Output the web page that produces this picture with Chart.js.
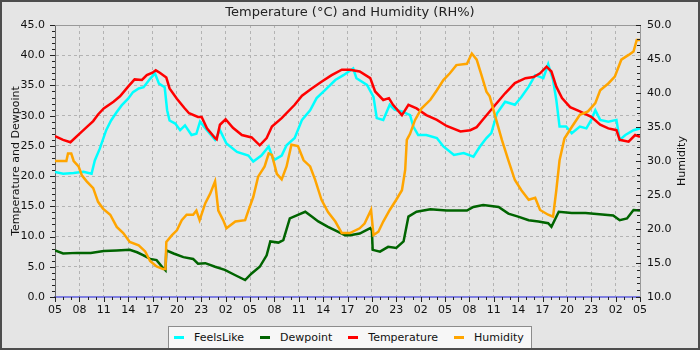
<!DOCTYPE html>
<html>
<head>
<meta charset="utf-8">
<title>Temperature and Humidity</title>
<script src="https://cdn.jsdelivr.net/npm/chart.js@4.4.1/dist/chart.umd.min.js"></script>
<style>
  html, body { margin: 0; padding: 0; background: #e5e5e5; }
  #frame {
    position: relative; width: 700px; height: 350px; box-sizing: border-box;
    border: 2px solid #4d4d4d; background: #e5e5e5; overflow: hidden;
  }
  #plot { position: absolute; left: 0; top: 0; width: 696px; height: 346px; }
  #legend {
    position: absolute; left: 166px; top: 324px; width: 364px; height: 24px;
    box-sizing: border-box; border: 1px solid #8c8c8c; background: #f7f7f7;
    display: flex; align-items: center; padding: 0 0 2px 5px;
    font: 11px "DejaVu Sans", sans-serif; color: #111; white-space: nowrap;
  }
  #legend .item { display: flex; align-items: center; margin-right: 16px; }
  #legend .item:last-child { margin-right: 0; }
  #legend .mark { width: 10px; height: 3px; margin-right: 10px; }
</style>
</head>
<body>
<div id="frame">
  <div id="plot"><canvas id="c" width="696" height="346"></canvas></div>
  <div id="legend"></div>
</div>
<script>
// Time axis: hours since 05:00 on the first day, labelled every 3 hours.
const hourLabels = ['05','08','11','14','17','20','23','02','05','08','11','14','17',
                    '20','23','02','05','08','11','14','17','20','23','02','05'];

// Temperature (°C)
const tempHours = [0,1,1.9,3,3.9,4.7,5.3,6,7.2,8,9,9.8,10.7,11.3,12,12.4,12.9,13.7,14.1,15,15.9,16.5,17.6,18.05,18.7,19.7,19.9,20.3,21.0,21.9,23.0,24.2,25.2,26.05,26.7,27.9,29.5,30.4,31.6,32.8,34.05,35.3,36.3,37.5,38.8,39.4,40.4,41.1,41.6,42.7,43.5,44.5,45.7,47.0,48.2,49.9,51.1,51.9,52.7,53.5,54.2,55.4,56.6,57.9,58.9,59.7,60.5,61.1,61.7,62.4,63.4,64.6,66.0,67.1,68.1,69.1,69.5,70.6,71.4,72];
const tempValues = [26.6,26.0,25.6,27.0,28.1,29.1,30.2,31.2,32.3,33.2,34.8,36.0,35.9,36.7,37.1,37.5,37.1,36.3,34.5,32.8,31.3,30.4,29.8,29.8,27.9,26.3,26.1,28.5,29.4,28.0,26.8,26.4,25.1,26.3,28.2,29.6,31.8,33.3,34.5,35.6,36.7,37.6,37.6,37.3,36.2,34.0,32.6,32.9,31.8,30.1,31.8,31.2,30.1,29.3,28.3,27.4,27.6,28.1,29.4,30.7,31.8,33.7,35.4,36.2,36.4,37.0,38.1,37.3,34.8,32.9,31.4,30.7,29.8,28.5,27.9,27.6,26.0,25.7,26.8,26.5];

// Feels-like temperature (°C)
const feelsHours = [0,1,2.3,3.5,4.5,4.9,5.5,6.3,6.9,7.6,8.2,9,9.6,10.3,10.9,11.7,12.3,12.8,13.5,13.8,14.1,14.8,15.4,16.0,16.8,17.4,17.85,18.7,19.7,20.3,21.1,22.4,23.8,24.4,25.4,26.3,26.9,27.9,28.5,29.5,30.4,31.4,32.2,33.2,34.5,35.5,36.7,37.1,38.4,39.2,39.6,40.4,41.2,41.8,42.7,43.7,44.1,44.7,45.7,47.0,47.8,49.1,50.3,51.5,52.3,53.1,53.7,54.4,55.4,56.6,57.4,58.3,59.1,60.1,60.7,61.3,61.7,62.1,62.9,63.6,64.6,65.4,66.0,66.5,67.1,68.1,69.1,69.5,70.2,71.2,72];
const feelsValues = [20.7,20.4,20.5,20.7,20.4,22.6,24.5,27.6,29.2,30.6,31.7,32.8,33.9,34.5,34.7,36.1,37.0,35.3,34.7,30.9,29.2,28.7,27.6,28.4,26.8,27.0,29.0,27.6,26.0,27.6,25.4,24.0,23.4,22.4,23.4,24.9,22.6,23.4,25.1,26.3,29.3,30.9,32.9,34.2,35.9,36.7,37.8,36.2,35.1,33.1,29.6,29.3,31.8,31.0,30.7,30.1,28.2,26.8,26.8,26.3,24.9,23.5,23.8,23.2,24.9,26.3,27.1,30.4,32.3,31.8,33.1,34.8,36.7,36.2,38.5,35.9,32.6,28.2,28.2,27.1,28.2,27.9,29.3,30.9,29.3,29.0,29.3,26.0,26.8,27.6,27.9];

// Dewpoint (°C)
const dewHours = [0,1,2.7,4.4,6,7.6,9.2,10.1,10.9,11.7,12.5,13.3,13.6,13.7,14.6,15.8,17,17.6,18.5,19.7,20.9,22.2,23.4,24.2,25.2,26.05,26.5,27.5,28.1,28.9,29.9,30.8,31.6,32.4,33.6,34.8,35.7,36.3,37.5,38.8,39.0,39.1,40.0,41.0,42.0,42.9,43.5,44.5,46.2,48.2,50.7,51.5,52.7,54.6,55.8,57.0,58.3,59.5,60.7,61.1,62.0,63.6,65.3,67.0,68.7,69.5,70.4,71.2,72];
const dewValues = [7.7,7.2,7.3,7.3,7.6,7.7,7.8,7.4,6.9,6.3,6.1,4.8,4.4,7.7,7.2,6.6,6.3,5.5,5.6,5.0,4.5,3.6,2.8,3.9,5.0,6.9,9.2,9.0,9.4,13.0,13.6,14.1,13.3,12.5,11.6,10.8,10.2,10.2,10.5,11.4,11.0,7.8,7.5,8.3,8.1,9.2,13.3,14.1,14.5,14.3,14.3,14.9,15.2,14.9,13.8,13.3,12.7,12.5,12.2,11.6,14.1,13.9,13.9,13.7,13.5,12.7,13.0,14.4,14.3];

// Relative humidity (%)
const humHours = [0,1.4,1.6,2.0,2.3,2.9,3.3,3.9,4.7,5.3,5.9,6.8,7.6,8.4,9.2,10.3,11.1,11.7,12.5,13.3,13.6,13.7,14.4,15.0,15.6,16.2,17.0,17.4,17.8,18.5,19.1,19.7,20.1,20.7,21.1,22.2,23.4,23.8,24.4,25.0,25.8,26.3,26.7,27.3,27.9,28.5,29.1,29.9,30.6,31.4,32.0,32.8,33.6,34.5,35.3,36.3,37.5,38.1,38.9,39.2,39.8,40.4,41.2,42.0,42.7,43.1,43.3,43.7,44.3,45.1,46.2,47.0,47.8,48.6,49.4,50.7,51.3,51.9,52.5,53.1,53.5,54.2,55.0,55.8,56.6,57.4,58.3,59.1,59.7,60.7,61.3,61.7,62.1,62.7,63.6,64.6,65.6,66.5,67.1,68.1,68.9,69.7,70.6,71.2,71.6,72];
const humValues = [30.0,30.0,31.1,31.1,30.0,29.2,27.9,27.0,26.0,24.0,23.0,22.1,20.3,19.4,18.1,17.6,16.7,15.3,14.5,14.1,14.1,18.1,19.1,19.8,21.3,22.1,22.1,22.7,21.3,23.8,25.2,27.0,22.7,21.3,20.1,21.1,21.3,22.7,24.7,27.7,29.2,31.1,30.9,28.1,27.3,29.2,32.4,32.2,30.1,29.2,27.3,24.3,22.5,21.1,19.4,19.4,20.1,20.8,22.8,19.1,19.6,21.1,22.8,24.3,25.7,28.7,33.1,34.0,36.0,37.7,39.0,40.4,41.9,42.9,44.1,44.3,45.8,44.9,42.6,40.2,39.5,36.5,33.1,30.1,27.2,25.7,24.3,24.6,22.8,22.1,21.8,25.7,30.1,33.3,35.0,36.8,37.3,38.5,40.4,41.4,42.4,44.9,45.6,46.1,47.8,47.8];

const toPoints = (hours, values) => hours.map((h, i) => ({ x: h, y: values[i] }));

Chart.defaults.font.family = '"DejaVu Sans", sans-serif';
Chart.defaults.font.size = 11;
Chart.defaults.color = '#111';

// Hour / unit tick marks on all three axes (major ticks slightly longer).
const axisTicks = {
  id: 'axisTicks',
  afterDraw(chart) {
    const { ctx, chartArea: a, scales } = chart;
    ctx.save();
    ctx.strokeStyle = '#222';
    ctx.lineWidth = 1;
    ctx.beginPath();
    for (let h = scales.x.min; h <= scales.x.max; h++) {
      const px = Math.round(scales.x.getPixelForValue(h)) + 0.5;
      ctx.moveTo(px, a.bottom);
      ctx.lineTo(px, a.bottom + (h % 3 === 0 ? 5 : 3));
    }
    for (let v = scales.yT.min; v <= scales.yT.max; v++) {
      const py = Math.round(scales.yT.getPixelForValue(v)) + 0.5;
      ctx.moveTo(a.left - (v % 5 === 0 ? 5 : 3), py);
      ctx.lineTo(a.left, py);
    }
    for (let v = scales.yH.min; v <= scales.yH.max; v++) {
      const py = Math.round(scales.yH.getPixelForValue(v)) + 0.5;
      ctx.moveTo(a.right - (v % 5 === 0 ? 4 : 3), py);
      ctx.lineTo(a.right + (v % 5 === 0 ? 1 : 0), py);
    }
    ctx.stroke();
    ctx.restore();
  }
};

// Top edge of the plot frame and the right-hand axis title.
const frameAndTitle = {
  id: 'frameAndTitle',
  beforeDatasetsDraw(chart) {
    const { ctx, chartArea: a } = chart;
    ctx.save();
    ctx.strokeStyle = '#999';
    ctx.lineWidth = 1;
    ctx.beginPath();
    ctx.moveTo(a.left, a.top + 0.5);
    ctx.lineTo(a.right, a.top + 0.5);
    ctx.stroke();
    ctx.restore();
  },
  afterDraw(chart) {
    const { ctx, chartArea: a, scales } = chart;
    ctx.save();
    ctx.translate(scales.yH.right - 16, (a.top + a.bottom) / 2);
    ctx.rotate(-Math.PI / 2);
    ctx.font = '11px "DejaVu Sans", sans-serif';
    ctx.fillStyle = '#111';
    ctx.textAlign = 'center';
    ctx.textBaseline = 'middle';
    ctx.fillText('Humidity', 0, 0);
    ctx.restore();
  }
};

// Legend rendered as HTML from the chart's own datasets.
const htmlLegend = {
  id: 'htmlLegend',
  afterUpdate(chart) {
    const box = document.getElementById('legend');
    box.innerHTML = '';
    chart.data.datasets.forEach(ds => {
      const item = document.createElement('span');
      item.className = 'item';
      const mark = document.createElement('span');
      mark.className = 'mark';
      mark.style.background = ds.borderColor;
      const text = document.createElement('span');
      text.textContent = ds.label;
      item.appendChild(mark);
      item.appendChild(text);
      box.appendChild(item);
    });
  }
};

const gridStyle = { color: '#b3b3b3', lineWidth: 1, drawTicks: false };

new Chart(document.getElementById('c'), {
  type: 'line',
  data: {
    datasets: [
      { label: 'FeelsLike', data: toPoints(feelsHours, feelsValues), borderColor: '#00ffff', yAxisID: 'yT', order: 4 },
      { label: 'Dewpoint', data: toPoints(dewHours, dewValues), borderColor: '#006400', yAxisID: 'yT', order: 3 },
      { label: 'Temperature', data: toPoints(tempHours, tempValues), borderColor: '#ff0000', yAxisID: 'yT', order: 2 },
      { label: 'Humidity', data: toPoints(humHours, humValues), borderColor: '#ffa500', yAxisID: 'yH', order: 1 }
    ]
  },
  options: {
    responsive: false,
    animation: false,
    events: [],
    datasets: { line: { borderWidth: 2.5, pointRadius: 0, tension: 0, fill: false } },
    layout: { padding: { left: 0, right: 0, top: 0, bottom: 29 } },
    plugins: {
      legend: { display: false },
      tooltip: { enabled: false },
      title: {
        display: true,
        text: 'Temperature (°C) and Humidity (RH%)',
        color: '#222',
        font: { size: 13, weight: 'normal' },
        padding: { top: 3, bottom: 4.4 }
      }
    },
    scales: {
      x: {
        type: 'linear', position: 'bottom', min: 0, max: 72,
        afterFit: s => { s.height = 22; },
        ticks: {
          stepSize: 3, autoSkip: false, maxRotation: 0, padding: 7, color: '#111',
          callback: v => hourLabels[Math.round(v / 3)]
        },
        grid: gridStyle,
        border: { display: true, color: '#7f7fe0', width: 2, dash: [3, 3] }
      },
      yT: {
        type: 'linear', position: 'left', min: 0, max: 45,
        afterFit: s => { s.width = 53; },
        ticks: { stepSize: 5, padding: 10, color: '#111', callback: v => v.toFixed(1) },
        grid: gridStyle,
        border: { display: true, color: '#666', width: 1, dash: [3, 3] },
        title: { display: true, text: 'Temperature and Dewpoint', color: '#111', padding: { top: 8, bottom: 0 } }
      },
      yH: {
        type: 'linear', position: 'right', min: 10, max: 50,
        afterFit: s => { s.width = 58; },
        ticks: { stepSize: 5, padding: 7, color: '#111', callback: v => v.toFixed(1) },
        grid: { display: false, drawTicks: false },
        border: { display: true, color: '#999', width: 1 }
      }
    }
  },
  plugins: [axisTicks, frameAndTitle, htmlLegend]
});
</script>
</body>
</html>
